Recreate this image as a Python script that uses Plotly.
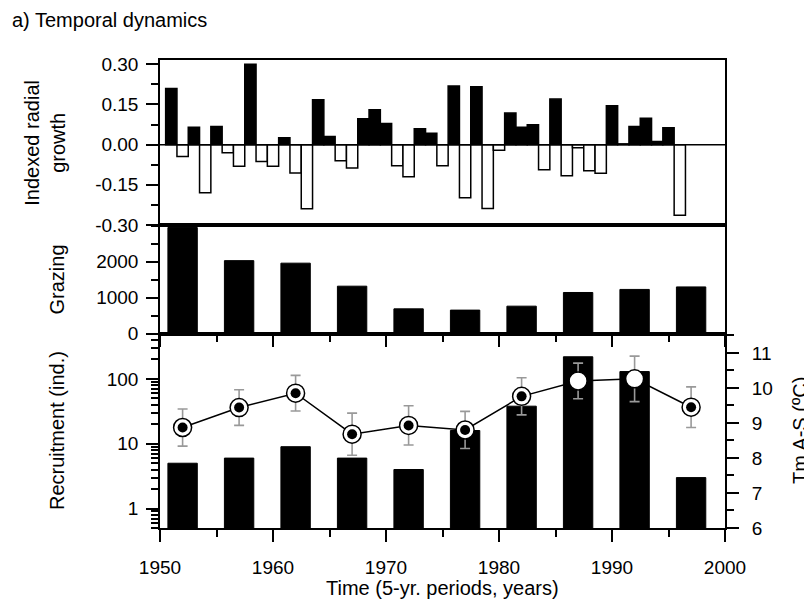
import plotly.graph_objects as go
import math

# ---------------- data ----------------
growth_years = list(range(1951, 1997))
growth_index = [0.21, -0.044, 0.065, -0.18, 0.068, -0.03, -0.081, 0.30, -0.063, -0.081,
                0.026, -0.106, -0.239, 0.168, 0.03, -0.06, -0.087, 0.097, 0.13, 0.079,
                -0.079, -0.12, 0.059, 0.043, -0.079, 0.219, -0.198, 0.216, -0.238, -0.021,
                0.118, 0.065, 0.074, -0.094, 0.17, -0.116, -0.012, -0.097, -0.107, 0.145,
                0.003, 0.068, 0.099, 0.012, 0.063, -0.264]

periods = [1952, 1957, 1962, 1967, 1972, 1977, 1982, 1987, 1992, 1997]
grazing = [2950, 2030, 1960, 1320, 690, 655, 765, 1145, 1230, 1300]
recruitment = [5, 6, 9, 6, 4, 16, 38, 220, 130, 3]
tm_as = [8.87, 9.44, 9.85, 8.68, 8.93, 8.80, 9.76, 10.20, 10.26, 9.45]
tm_err = [0.53, 0.51, 0.51, 0.60, 0.56, 0.53, 0.53, 0.51, 0.65, 0.58]

growth_ticks = [-0.30, -0.15, 0.00, 0.15, 0.30]
grazing_ticks = [0, 1000, 2000]
recruit_ticks = [1, 10, 100]
tm_ticks = [6, 7, 8, 9, 10, 11]
x_ticks = [1950, 1960, 1970, 1980, 1990, 2000]

# ---------------- styles ----------------
inner_dot_colors = ["black"] * 7 + ["white", "white"] + ["black"]
FONT = "Arial, Liberation Sans, sans-serif"
FS_TICK = 19
FS_TITLE = 20
LW = 1.5

fig = go.Figure()

# top panel: annual growth index
fig.add_trace(go.Bar(
    x=growth_years, y=growth_index, xaxis="x3", yaxis="y",
    width=1.0, offset=-0.5,
    marker=dict(color=["black" if v >= 0 else "white" for v in growth_index],
                line=dict(color="black", width=LW)),
    showlegend=False))

# middle panel: grazing
fig.add_trace(go.Bar(
    x=periods, y=grazing, xaxis="x2", yaxis="y2",
    width=2.6, offset=-1.3,
    marker=dict(color="black", line=dict(color="black", width=1)),
    showlegend=False))

# bottom panel: recruitment (log)
fig.add_trace(go.Bar(
    x=periods, y=recruitment, xaxis="x", yaxis="y3",
    width=2.6, offset=-1.3,
    marker=dict(color="black", line=dict(color="black", width=1)),
    showlegend=False))

# temperature with error bars
fig.add_trace(go.Scatter(
    x=periods, y=tm_as, xaxis="x", yaxis="y4", mode="lines+markers",
    line=dict(color="black", width=LW),
    marker=dict(size=18, color="white", line=dict(color="black", width=1.5)),
    error_y=dict(type="data", array=tm_err, color="#999999", thickness=1.6, width=5),
    showlegend=False))
fig.add_trace(go.Scatter(
    x=periods, y=tm_as, xaxis="x", yaxis="y4", mode="markers",
    marker=dict(size=10, color=inner_dot_colors, line=dict(width=0)),
    showlegend=False))

b_rec = 0.4152
b_graz = 0.6474

tickfont = dict(family=FONT, size=FS_TICK, color="black")
common_y = dict(showline=True, linecolor="black", linewidth=LW, mirror=True,
                ticks="outside", ticklen=12, tickwidth=LW, tickcolor="black",
                showgrid=False, zeroline=False, tickfont=tickfont,
                ticklabelstandoff=4)
common_x = dict(range=[1950, 2000], showline=True, linecolor="black", linewidth=LW,
                mirror=True, showgrid=False, zeroline=False)
minor_common = dict(ticks="outside", ticklen=7, tickwidth=LW, tickcolor="black")

fig.update_layout(
    width=812, height=600,
    margin=dict(l=152, r=95, t=52, b=80),
    paper_bgcolor="white", plot_bgcolor="white",
    font=dict(family=FONT, size=FS_TICK, color="black"),
    barmode="overlay",
    xaxis=dict(**common_x, anchor="y3", tickvals=x_ticks,
               ticks="outside", ticklen=12, tickwidth=LW, tickcolor="black",
               minor=dict(dtick=5, tick0=1950, **minor_common),
               tickfont=tickfont, ticklabelstandoff=9),
    xaxis2=dict(**common_x, anchor="y2", matches="x", tickvals=x_ticks,
                showticklabels=False,
                ticks="outside", ticklen=12, tickwidth=LW, tickcolor="black",
                minor=dict(dtick=5, tick0=1950, **minor_common)),
    xaxis3=dict(**common_x, anchor="y", matches="x", ticks="", showticklabels=False),
    yaxis=dict(**common_y, domain=[b_graz, 1], anchor="x3", range=[-0.30, 0.316],
               tickvals=growth_ticks, ticktext=["%.2f" % v for v in growth_ticks],
               minor=dict(tick0=0, dtick=0.075, **minor_common)),
    yaxis2=dict(**common_y, domain=[b_rec, b_graz], anchor="x2", range=[0, 3020],
                tickvals=grazing_ticks, ticktext=[str(v) for v in grazing_ticks],
                minor=dict(tick0=0, dtick=500, **minor_common)),
    yaxis3=dict(**common_y, domain=[0, b_rec], anchor="x", type="log",
                range=[math.log10(0.5), math.log10(500)],
                tickvals=recruit_ticks, ticktext=[str(v) for v in recruit_ticks],
                minor=dict(dtick="D1", **minor_common)),
    yaxis4=dict(overlaying="y3", side="right", anchor="x", range=[6, 11.55],
                showline=False, showgrid=False, zeroline=False,
                tickvals=tm_ticks,
                ticks="outside", ticklen=13, tickwidth=LW, tickcolor="black",
                minor=dict(tick0=6, dtick=0.5, ticks="outside", ticklen=8,
                           tickwidth=LW, tickcolor="black"),
                tickfont=tickfont, ticklabelstandoff=9),
)

# zero line in top panel
fig.add_shape(type="line", xref="x3", yref="y", x0=1950, x1=2000, y0=0, y1=0,
              line=dict(color="black", width=LW))

ann_font = dict(family=FONT, size=FS_TITLE, color="black")
fig.add_annotation(text="a) Temporal dynamics", xref="paper", yref="paper",
                   x=-0.265, y=1.0855, xanchor="left", yanchor="middle",
                   showarrow=False, font=dict(family=FONT, size=20, color="black"))
fig.add_annotation(text="Indexed radial<br>growth", xref="paper", yref="paper",
                   x=-0.205, y=(b_graz + 1) / 2, xanchor="center", yanchor="middle",
                   textangle=-90, showarrow=False, font=ann_font)
fig.add_annotation(text="Grazing", xref="paper", yref="paper",
                   x=-0.182, y=(b_rec + b_graz) / 2, xanchor="center", yanchor="middle",
                   textangle=-90, showarrow=False, font=ann_font)
fig.add_annotation(text="Recruitment (ind.)", xref="paper", yref="paper",
                   x=-0.182, y=b_rec / 2, xanchor="center", yanchor="middle",
                   textangle=-90, showarrow=False, font=ann_font)
fig.add_annotation(text="Tm A-S (ºC)", xref="paper", yref="paper",
                   x=1.133, y=b_rec / 2, xanchor="center", yanchor="middle",
                   textangle=-90, showarrow=False, font=ann_font)
fig.add_annotation(text="Time (5-yr. periods, years)", xref="paper", yref="paper",
                   x=0.5, y=-0.128, xanchor="center", yanchor="middle",
                   showarrow=False, font=ann_font)

fig.write_html("out.html")
